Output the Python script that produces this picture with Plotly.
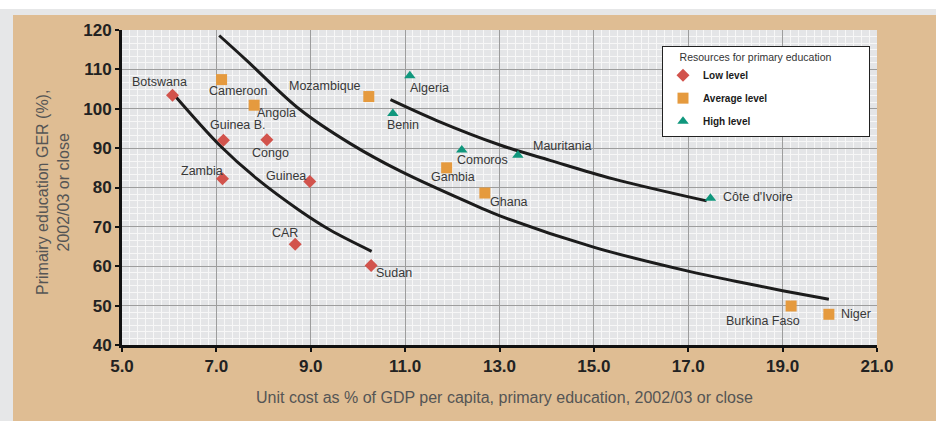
import plotly.graph_objects as go

# Unit cost (% of GDP per capita) and primary GER (%) by resource level
low_names = ["Botswana", "Guinea B.", "Zambia", "Congo", "Guinea", "CAR", "Sudan"]
low_x = [6.07, 7.15, 7.13, 8.07, 8.98, 8.67, 10.28]
low_y = [103.4, 92.0, 82.2, 92.1, 81.5, 65.6, 60.2]

avg_names = ["Cameroon", "Angola", "Mozambique", "Gambia", "Ghana", "Burkina Faso", "Niger"]
avg_x = [7.11, 7.80, 10.23, 11.88, 12.69, 19.18, 19.98]
avg_y = [107.4, 100.9, 103.1, 85.0, 78.6, 49.9, 47.8]

high_names = ["Algeria", "Benin", "Comoros", "Mauritania", "Côte d'Ivoire"]
high_x = [11.10, 10.74, 12.20, 13.39, 17.47]
high_y = [108.4, 98.8, 89.5, 88.2, 77.3]

# Trend curves, one per resource level
curve_low_x = [6.07, 7.08, 7.85, 8.77, 9.41, 10.29]
curve_low_y = [104.0, 90.6, 82.3, 74.1, 69.2, 63.8]
curve_mid_x = [7.06, 7.64, 8.77, 9.83, 10.89, 12.59, 13.01, 15.01, 17.02, 18.0, 19.0, 19.98]
curve_mid_y = [118.6, 112.3, 99.8, 91.2, 84.2, 74.9, 72.8, 64.8, 58.7, 56.2, 53.8, 51.6]
curve_high_x = [10.69, 11.67, 13.01, 14.07, 15.41, 17.39]
curve_high_y = [102.3, 97.0, 90.8, 86.9, 82.2, 76.6]

x_ticks = [5.0, 7.0, 9.0, 11.0, 13.0, 15.0, 17.0, 19.0, 21.0]
y_ticks = [40, 50, 60, 70, 80, 90, 100, 110, 120]

# label offsets in pixels (dx right, dy up) per country
label_offsets = {
    "Botswana": (-13, 13), "Guinea B.": (15, 15), "Zambia": (-21, 8),
    "Congo": (4, -13), "Guinea": (-24, 6), "CAR": (-10, 11), "Sudan": (23, -8),
    "Cameroon": (16, -11), "Angola": (22, -8), "Mozambique": (-44, 11),
    "Gambia": (6, -9), "Ghana": (24, -9), "Burkina Faso": (-28, -15), "Niger": (27, 0),
    "Algeria": (20, -12), "Benin": (10, -12), "Comoros": (21, -10),
    "Mauritania": (44, 9), "Côte d'Ivoire": (48, 1),
}

RED, ORANGE, TEAL = "#d2534c", "#e59a3e", "#10977d"
TAN = "#dfbd93"
LABEL_FONT = dict(family="Liberation Sans, Arial, sans-serif", size=12.5, color="#383838")

fig = go.Figure()

for cx, cy in [(curve_low_x, curve_low_y), (curve_mid_x, curve_mid_y), (curve_high_x, curve_high_y)]:
    fig.add_trace(go.Scatter(x=cx, y=cy, mode="lines", showlegend=False, hoverinfo="skip",
                             line=dict(color="#1c1c1c", width=3, shape="spline", smoothing=1.0)))

series = [
    ("<b>Low level</b>", low_names, low_x, low_y, "diamond", RED, 10),
    ("<b>Average level</b>", avg_names, avg_x, avg_y, "square", ORANGE, 11),
    ("<b>High level</b>", high_names, high_x, high_y, "triangle-up", TEAL, 10),
]
for i, (name, names, xs, ys, sym, col, sz) in enumerate(series):
    fig.add_trace(go.Scatter(x=xs, y=ys, mode="markers", name=name, text=names,
                             legendgroup=f"g{i}",
                             marker=dict(symbol=sym, color=col, size=sz, line=dict(width=0))))
    for n, xv, yv in zip(names, xs, ys):
        dx, dy = label_offsets[n]
        fig.add_annotation(x=xv, y=yv, xref="x", yref="y", text=n, showarrow=False,
                           xshift=dx, yshift=dy, xanchor="center", yanchor="middle",
                           font=LABEL_FONT)

# Axis titles
fig.add_annotation(text="Unit cost as % of GDP per capita, primary education, 2002/03 or close",
                   xref="paper", yref="paper", x=(504 - 122) / 755, y=(345 - 397) / 315,
                   showarrow=False, xanchor="center", yanchor="middle",
                   font=dict(family="Liberation Sans, Arial, sans-serif", size=16, color="#555555"))
fig.add_annotation(text="Primairy education GER (%),<br>2002/03 or close",
                   xref="paper", yref="paper", x=(53 - 122) / 755, y=(345 - 193) / 315,
                   showarrow=False, textangle=-90, xanchor="center", yanchor="middle",
                   align="center",
                   font=dict(family="Liberation Sans, Arial, sans-serif", size=16, color="#555555"))

# Page frame around the chart panel
px = lambda v: (v - 122) / 755
py = lambda v: (345 - v) / 315
fig.add_shape(type="rect", xref="paper", yref="paper", x0=px(-5), x1=px(941), y0=py(9), y1=py(-5),
              fillcolor="white", line_width=0, layer="below")
fig.add_shape(type="rect", xref="paper", yref="paper", x0=px(-5), x1=px(941), y0=py(15), y1=py(9),
              fillcolor="#e6e7e8", line_width=0, layer="below")
fig.add_shape(type="rect", xref="paper", yref="paper", x0=px(-5), x1=px(13), y0=py(426), y1=py(9),
              fillcolor="#e6e7e8", line_width=0, layer="below")

tickfont = dict(family="Liberation Sans, Arial, sans-serif", size=17, color="#222222", weight="bold")

fig.update_xaxes(range=[5, 21], tickvals=x_ticks, ticktext=[f"{v:.1f}" for v in x_ticks],
                 showline=True, linewidth=3, linecolor="#111111",
                 ticks="outside", ticklen=4, tickwidth=2, tickcolor="#111111",
                 showgrid=True, gridcolor="#9d9d9d", gridwidth=1, zeroline=False,
                 tickfont=tickfont,
                 minor=dict(dtick=2 / 12, tick0=5, showgrid=True, gridcolor="#f7f7f7", gridwidth=1))
fig.update_yaxes(range=[40, 120], tickvals=y_ticks,
                 showline=True, linewidth=3, linecolor="#111111",
                 ticks="outside", ticklen=4, tickwidth=2, tickcolor="#111111",
                 showgrid=True, gridcolor="#9d9d9d", gridwidth=1, zeroline=False,
                 tickfont=tickfont,
                 minor=dict(dtick=10 / 6, tick0=40, showgrid=True, gridcolor="#f7f7f7", gridwidth=1))

fig.update_layout(
    width=936, height=421,
    margin=dict(l=122, r=59, t=30, b=76, pad=0),
    paper_bgcolor=TAN, plot_bgcolor="#e4e5e7",
    showlegend=True,
    legend=dict(x=px(662), y=py(46), xanchor="left", yanchor="top",
                bgcolor="white", bordercolor="#222222", borderwidth=1,
                title=dict(text="&nbsp;" * 5 + "Resources for primary education" + "&nbsp;" * 12,
                           font=dict(family="Liberation Sans, Arial, sans-serif", size=10.5, color="#333333")),
                font=dict(family="Liberation Sans, Arial, sans-serif", size=10, color="#1a1a1a"),
                tracegroupgap=4, itemwidth=30),
    font=dict(family="Liberation Sans, Arial, sans-serif"),
)

fig.write_html("out.html")
